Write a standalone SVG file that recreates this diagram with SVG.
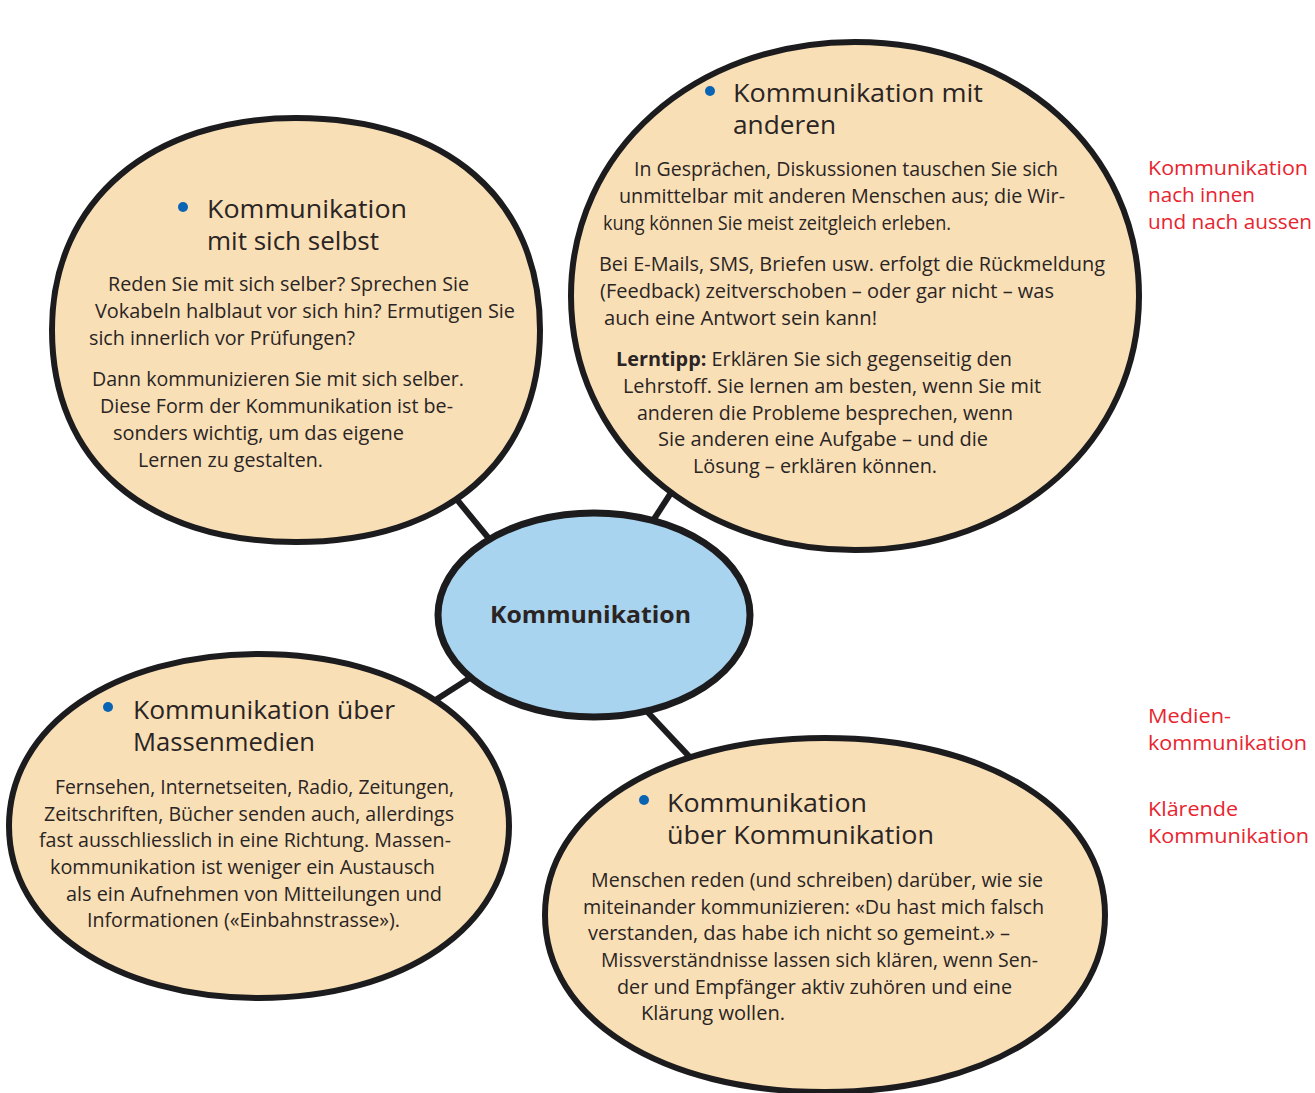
<svg xmlns="http://www.w3.org/2000/svg" width="1315" height="1093" viewBox="0 0 1315 1093">
<style>
.bubble{fill:#f9dfb6;stroke:#1c1c1e;stroke-width:6;stroke-linejoin:round}
.core{fill:#a9d4ef;stroke:#1c1c1e;stroke-width:7}
.conn line{stroke:#1c1c1e;stroke-width:6;stroke-linecap:butt}
.t{font-family:"Open Sans","Noto Sans","Liberation Sans",sans-serif;fill:#2a2524}
.h{font-size:26px}
.b{font-size:20px}
.bul{fill:#0a64b4}
.red{font-family:"Open Sans","Noto Sans","Liberation Sans",sans-serif;font-size:20px;fill:#e8242f}
</style>
<rect width="1315" height="1093" fill="#ffffff"/>
<g id="connectors" class="conn">
<line x1="445" y1="485" x2="495" y2="546"/>
<line x1="678" y1="482" x2="645" y2="533"/>
<line x1="420" y1="710" x2="490" y2="665"/>
<line x1="640" y1="704" x2="700" y2="768"/>
</g>
<g id="node-selbst">
<path class="bubble" d="M52,330 C52,199 153,118 296,118 C447,118 540,199 540,330 C540,461 447,542 296,542 C145,542 52,461 52,330 Z"/>
<circle class="bul" cx="183" cy="207" r="5"/>
<text class="t h" x="207" y="218" textLength="200" lengthAdjust="spacingAndGlyphs">Kommunikation</text>
<text class="t h" x="207" y="250" textLength="172" lengthAdjust="spacingAndGlyphs">mit sich selbst</text>
<text class="t b" x="108" y="291" textLength="361" lengthAdjust="spacingAndGlyphs">Reden Sie mit sich selber? Sprechen Sie</text>
<text class="t b" x="95" y="318" textLength="420" lengthAdjust="spacingAndGlyphs">Vokabeln halblaut vor sich hin? Ermutigen Sie</text>
<text class="t b" x="89" y="345" textLength="266" lengthAdjust="spacingAndGlyphs">sich innerlich vor Prüfungen?</text>
<text class="t b" x="92" y="386" textLength="372" lengthAdjust="spacingAndGlyphs">Dann kommunizieren Sie mit sich selber.</text>
<text class="t b" x="100" y="413" textLength="353" lengthAdjust="spacingAndGlyphs">Diese Form der Kommunikation ist be-</text>
<text class="t b" x="113" y="440" textLength="291" lengthAdjust="spacingAndGlyphs">sonders wichtig, um das eigene</text>
<text class="t b" x="138" y="467" textLength="185" lengthAdjust="spacingAndGlyphs">Lernen zu gestalten.</text>
</g>
<g id="node-anderen">
<path class="bubble" d="M571,296 C571,151 694,42 855,42 C1017,42 1139,151 1139,296 C1139,441 1017,550 855,550 C694,550 571,441 571,296 Z"/>
<circle class="bul" cx="710" cy="91" r="5"/>
<text class="t h" x="733" y="102" textLength="250" lengthAdjust="spacingAndGlyphs">Kommunikation mit</text>
<text class="t h" x="733" y="134" textLength="103" lengthAdjust="spacingAndGlyphs">anderen</text>
<text class="t b" x="634" y="176" textLength="424" lengthAdjust="spacingAndGlyphs">In Gesprächen, Diskussionen tauschen Sie sich</text>
<text class="t b" x="619" y="203" textLength="446" lengthAdjust="spacingAndGlyphs">unmittelbar mit anderen Menschen aus; die Wir-</text>
<text class="t b" x="603" y="230" textLength="348" lengthAdjust="spacingAndGlyphs">kung können Sie meist zeitgleich erleben.</text>
<text class="t b" x="599" y="271" textLength="506" lengthAdjust="spacingAndGlyphs">Bei E-Mails, SMS, Briefen usw. erfolgt die Rückmeldung</text>
<text class="t b" x="600" y="298" textLength="454" lengthAdjust="spacingAndGlyphs">(Feedback) zeitverschoben – oder gar nicht – was</text>
<text class="t b" x="604" y="325" textLength="273" lengthAdjust="spacingAndGlyphs">auch eine Antwort sein kann!</text>
<text class="t b" x="616" y="366" textLength="396" lengthAdjust="spacingAndGlyphs"><tspan font-weight="bold">Lerntipp:</tspan> Erklären Sie sich gegenseitig den</text>
<text class="t b" x="623" y="393" textLength="418" lengthAdjust="spacingAndGlyphs">Lehrstoff. Sie lernen am besten, wenn Sie mit</text>
<text class="t b" x="637" y="420" textLength="376" lengthAdjust="spacingAndGlyphs">anderen die Probleme besprechen, wenn</text>
<text class="t b" x="658" y="446" textLength="330" lengthAdjust="spacingAndGlyphs">Sie anderen eine Aufgabe – und die</text>
<text class="t b" x="693" y="473" textLength="244" lengthAdjust="spacingAndGlyphs">Lösung – erklären können.</text>
</g>
<g id="node-massenmedien">
<path class="bubble" d="M9,826 C9,726 114,654 259,654 C404,654 509,726 509,826 C509,926 404,998 259,998 C114,998 9,926 9,826 Z"/>
<circle class="bul" cx="108" cy="707" r="5"/>
<text class="t h" x="133" y="719" textLength="262" lengthAdjust="spacingAndGlyphs">Kommunikation über</text>
<text class="t h" x="133" y="751" textLength="182" lengthAdjust="spacingAndGlyphs">Massenmedien</text>
<text class="t b" x="55" y="794" textLength="399" lengthAdjust="spacingAndGlyphs">Fernsehen, Internetseiten, Radio, Zeitungen,</text>
<text class="t b" x="44" y="821" textLength="410" lengthAdjust="spacingAndGlyphs">Zeitschriften, Bücher senden auch, allerdings</text>
<text class="t b" x="39" y="847" textLength="412" lengthAdjust="spacingAndGlyphs">fast ausschliesslich in eine Richtung. Massen-</text>
<text class="t b" x="50" y="874" textLength="385" lengthAdjust="spacingAndGlyphs">kommunikation ist weniger ein Austausch</text>
<text class="t b" x="66" y="901" textLength="376" lengthAdjust="spacingAndGlyphs">als ein Aufnehmen von Mitteilungen und</text>
<text class="t b" x="87" y="927" textLength="313" lengthAdjust="spacingAndGlyphs">Informationen («Einbahnstrasse»).</text>
</g>
<g id="node-metakommunikation">
<path class="bubble" d="M545,915 C545,811 662,738 825,738 C988,738 1105,811 1105,915 C1105,1019 988,1092 825,1092 C662,1092 545,1019 545,915 Z"/>
<circle class="bul" cx="644" cy="800" r="5"/>
<text class="t h" x="667" y="812" textLength="200" lengthAdjust="spacingAndGlyphs">Kommunikation</text>
<text class="t h" x="667" y="844" textLength="267" lengthAdjust="spacingAndGlyphs">über Kommunikation</text>
<text class="t b" x="591" y="887" textLength="452" lengthAdjust="spacingAndGlyphs">Menschen reden (und schreiben) darüber, wie sie</text>
<text class="t b" x="583" y="914" textLength="461" lengthAdjust="spacingAndGlyphs">miteinander kommunizieren: «Du hast mich falsch</text>
<text class="t b" x="588" y="940" textLength="422" lengthAdjust="spacingAndGlyphs">verstanden, das habe ich nicht so gemeint.» –</text>
<text class="t b" x="601" y="967" textLength="437" lengthAdjust="spacingAndGlyphs">Missverständnisse lassen sich klären, wenn Sen-</text>
<text class="t b" x="617" y="994" textLength="395" lengthAdjust="spacingAndGlyphs">der und Empfänger aktiv zuhören und eine</text>
<text class="t b" x="641" y="1020" textLength="144" lengthAdjust="spacingAndGlyphs">Klärung wollen.</text>
</g>
<g id="node-center">
<ellipse class="core" cx="594" cy="615" rx="156" ry="102"/>
<text class="t" x="490" y="623" font-size="24" font-weight="bold" textLength="201" lengthAdjust="spacingAndGlyphs">Kommunikation</text>
</g>
<g id="labels">
<text class="red" x="1148" y="175" textLength="160" lengthAdjust="spacingAndGlyphs">Kommunikation</text>
<text class="red" x="1148" y="202" textLength="107" lengthAdjust="spacingAndGlyphs">nach innen</text>
<text class="red" x="1148" y="229" textLength="164" lengthAdjust="spacingAndGlyphs">und nach aussen</text>
<text class="red" x="1148" y="723" textLength="83" lengthAdjust="spacingAndGlyphs">Medien-</text>
<text class="red" x="1148" y="750" textLength="159" lengthAdjust="spacingAndGlyphs">kommunikation</text>
<text class="red" x="1148" y="816" textLength="90" lengthAdjust="spacingAndGlyphs">Klärende</text>
<text class="red" x="1148" y="843" textLength="161" lengthAdjust="spacingAndGlyphs">Kommunikation</text>
</g>
</svg>
